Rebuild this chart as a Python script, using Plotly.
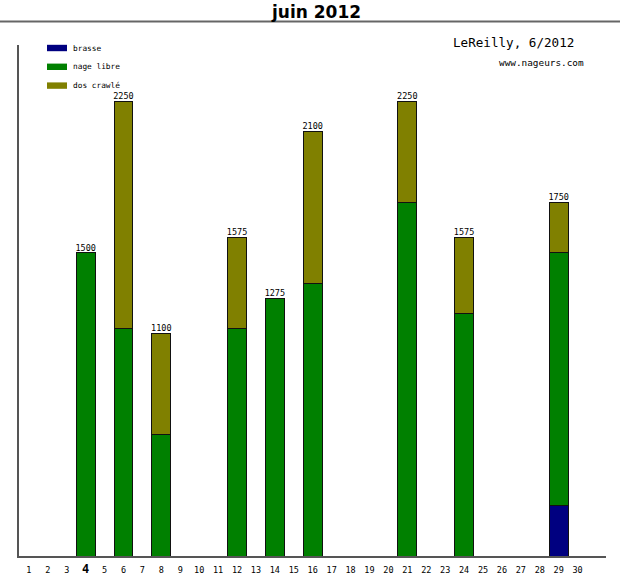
import plotly.graph_objects as go

# ---- data ----
days = list(range(1, 31))
bar_days = [4, 6, 8, 12, 14, 16, 21, 24, 29]
brasse = [0, 0, 0, 0, 0, 0, 0, 0, 250]
nage_libre = [1500, 1125, 600, 1125, 1275, 1350, 1750, 1200, 1250]
dos_crawle = [0, 1125, 500, 450, 0, 750, 500, 375, 250]
totals = [a + b + c for a, b, c in zip(brasse, nage_libre, dos_crawle)]
tick_labels = [str(d) for d in days]
tick_labels[3] = "<b><span style='font-size:12px'>4</span></b>"

W, H = 620, 575
L, R, T, B = 19, 14, 45, 19
PW, PH = W - L - R, H - T - B

def px(x):
    return (x - L) / PW

def py(y):
    return (H - B - y) / PH

mono = "DejaVu Sans Mono"
fig = go.Figure()
series = [("brasse", brasse, "#000080"), ("nage libre", nage_libre, "#008000"),
          ("dos crawlé", dos_crawle, "#808000")]
for name, vals, col in series:
    fig.add_trace(go.Bar(x=bar_days, y=vals, name=name, width=1.0,
                         marker=dict(color=col, line=dict(color="#111111", width=1)),
                         showlegend=False, hoverinfo="x+y+name"))

fig.add_trace(go.Scatter(x=bar_days, y=totals, mode="text", text=[str(t) for t in totals],
                         textposition="top center", showlegend=False,
                         textfont=dict(family=mono, size=8.5, color="#000")))

shapes = []
annotations = []
# legend (layout positions)
for i, (name, vals, col) in enumerate(series):
    yc = 48 + i * 18.8
    shapes.append(dict(type="rect", xref="paper", yref="paper",
                       x0=px(47), x1=px(67), y0=py(yc - 3.2), y1=py(yc + 3.2),
                       fillcolor=col, line=dict(color=col, width=0)))
    annotations.append(dict(xref="paper", yref="paper", x=px(70.5), y=py(yc),
                            xanchor="left", yanchor="middle", text=name, showarrow=False,
                            font=dict(family=mono, size=7.8, color="#000")))

annotations.append(dict(xref="paper", yref="paper", x=px(576), y=py(43),
                        xanchor="right", yanchor="middle", text="LeReilly, 6/2012",
                        showarrow=False, font=dict(family=mono, size=12.6, color="#000")))
annotations.append(dict(xref="paper", yref="paper", x=px(586), y=py(62),
                        xanchor="right", yanchor="middle", text="www.nageurs.com",
                        showarrow=False, font=dict(family=mono, size=9.4, color="#000")))
# page title
annotations.append(dict(xref="paper", yref="paper", x=px(316), y=py(12),
                        xanchor="center", yanchor="middle", text="<b>juin 2012</b>",
                        showarrow=False, font=dict(family="DejaVu Sans", size=17, color="#000")))
# header rule
shapes.append(dict(type="line", xref="paper", yref="paper", x0=px(0), x1=px(620),
                   y0=py(21.5), y1=py(21.5), line=dict(color="#666666", width=2)))

fig.update_layout(
    width=W, height=H, barmode="stack",
    margin=dict(l=L, r=R, t=T, b=B, pad=0, autoexpand=False),
    paper_bgcolor="white", plot_bgcolor="white",
    shapes=shapes, annotations=annotations,
    xaxis=dict(range=[0.477, 31.5], tickmode="array", tickvals=days, ticktext=tick_labels,
               showgrid=False, zeroline=False, showline=True, linecolor="#555555", linewidth=1.5,
               ticks="", automargin=False, ticklabelstandoff=5,
               tickfont=dict(family=mono, size=8.5, color="#000")),
    yaxis=dict(range=[0, 2527], showticklabels=False, showgrid=False, zeroline=False,
               showline=True, linecolor="#555555", linewidth=1.5, ticks="", automargin=False),
)

fig.write_html("out.html")
